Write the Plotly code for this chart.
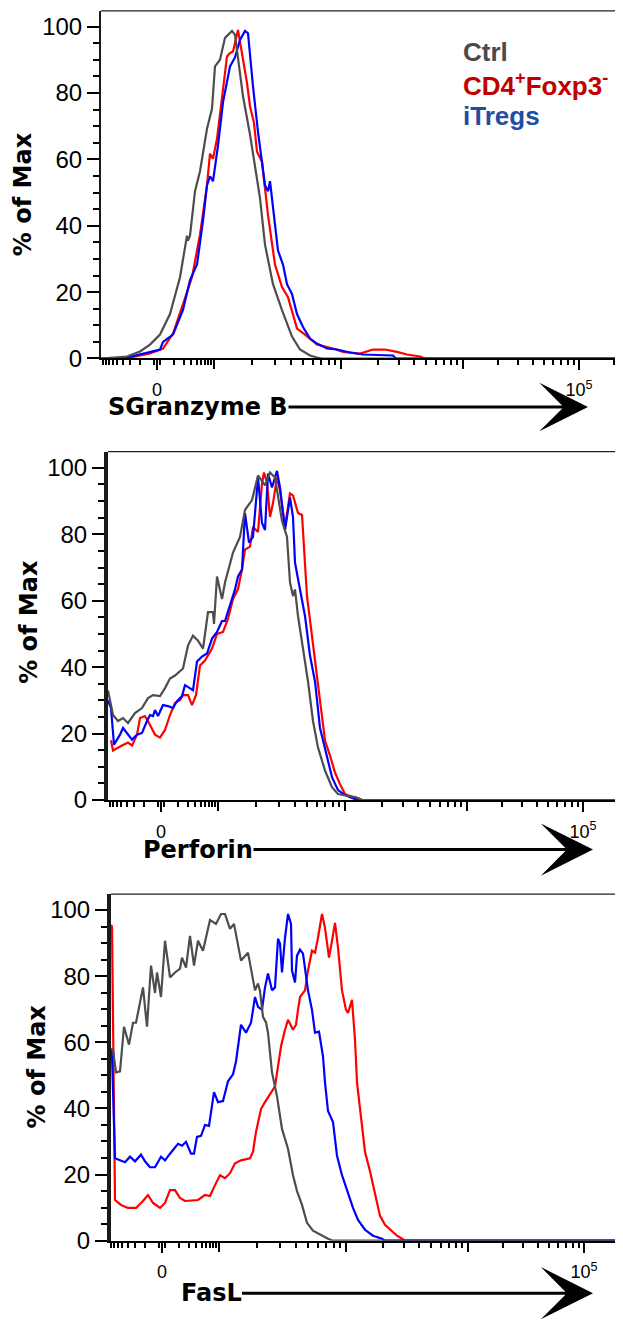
import plotly.graph_objects as go

PAGE_W, PAGE_H = 623, 1329
BODY_MARGIN = 8  # browser default margin around the plot div
FIG_W, FIG_H = PAGE_W - BODY_MARGIN, PAGE_H - 2 * BODY_MARGIN

# ---------------- data (x in display units of the biexponential axis, 0 = the "0" tick) ----------------
GROUP_LABELS = ["Ctrl", "CD4<sup>+</sup>Foxp3<sup>-</sup>", "iTregs"]
X_TITLES = ["SGranzyme B", "Perforin", "FasL"]
Y_TITLE = "% of Max"

X_LABELED = [0, 422]
X_LABELED_TEXT = ["0", "10<sup>5</sup>"]
X_UNLABELED_MAJOR = [57, 184, 306]
X_MINOR = [-54, -51, -48, -44, -40, -34, -27, -17, -3, 3, 17, 27, 34, 40, 44, 48, 51, 54,
           95, 118, 134, 146, 156, 164, 172, 178,
           221, 242, 257, 269, 279, 287, 294, 300,
           341, 361, 376, 387, 396, 404, 411, 417, 457]
Y_MAJOR = [0, 20, 40, 60, 80, 100]
Y_MAJOR_TEXT = ["0", "20", "40", "60", "80", "100"]
Y_MINOR = [5, 10, 15, 25, 30, 35, 45, 50, 55, 65, 70, 75, 85, 90, 95]

# Granzyme B
gzmb_ctrl_x = [-56, -30, -17, -7, 3, 13, 23, 30, 31, 33, 38, 43, 50, 55, 58, 63, 68, 75, 78, 81,
               86, 93, 100, 103, 108, 116, 125, 135, 143, 153, 160, 165, 470]
gzmb_ctrl_y = [0, 0.6, 2.1, 4.2, 7.2, 13.4, 24.5, 37, 35.5, 37, 50.4, 56.4, 69.2, 75.2, 88, 90, 96.6, 98.7, 97.5, 91,
               79, 67.5, 55, 48.3, 34.3, 22.4, 14.6, 6.6, 2.7, 0.9, 0.3, 0, 0]
gzmb_cd4_x = [-56, -37, -24, -7, 6, 16, 26, 35, 43, 50, 53, 56, 60, 65, 70, 73, 76, 81, 85, 90,
              93, 97, 100, 105, 111, 118, 125, 131, 140, 148, 160, 176, 186, 203, 216, 228, 240, 250, 263, 268, 470]
gzmb_cd4_y = [0, 0, 0.5, 1.5, 3, 7.5, 16.4, 24.5, 37.3, 52.2, 61.7, 60.2, 66.2, 79, 91, 92, 92.5, 99, 92, 83,
              76, 71, 62.3, 59.3, 43.2, 28.3, 21.5, 18.5, 9, 7.2, 4.2, 3, 2, 1.5, 2.7, 2.7, 2, 1.2, 0.6, 0, 0]
gzmb_itreg_x = [-56, -37, -27, -10, 3, 6, 16, 26, 33, 40, 46, 50, 53, 56, 61, 66, 73, 78, 83, 88,
                91, 96, 101, 108, 111, 113, 118, 121, 126, 130, 135, 140, 146, 153, 160, 170, 180, 193, 206, 236, 239, 470]
gzmb_itreg_y = [0, 0, 0.5, 1.8, 2.7, 5, 7.2, 14.6, 23.6, 28.3, 41.5, 52.2, 54.9, 53.4, 64.1, 77.2, 88, 90.7, 96, 98.7,
                98, 82, 68.3, 52.2, 50.4, 53.4, 39.4, 32.5, 28.3, 22.4, 19.4, 13.4, 9.5, 6, 4.5, 3, 2.7, 1.8, 1.2, 0.9, 0, 0]

# Perforin
perf_ctrl_x = [-53, -49, -48, -43, -38, -33, -26, -19, -13, -8, -1, 4, 9, 14, 22, 27, 32, 37, 42, 47,
               52, 53, 56, 61, 64, 72, 79, 84, 91, 97, 104, 109, 114, 121, 126, 129, 132, 134, 137, 142,
               147, 152, 157, 164, 171, 177, 184, 194, 201, 470]
perf_ctrl_y = [33, 26.8, 25.6, 23.8, 24.7, 23.2, 26.2, 27.7, 30.7, 31.6, 31.3, 33.7, 36.6, 37.5, 39.6, 46.5, 49.5, 48, 45.6, 56.6,
               56.6, 53, 67.3, 60.5, 65.5, 74.5, 79.2, 87.3, 90.3, 97.7, 94.7, 98.6, 97.1, 84, 79.2, 65.5, 61.4, 63.4, 55.4, 45.6,
               35.7, 23.8, 15.8, 8.9, 3.9, 1.8, 1.5, 0.9, 0, 0]
perf_cd4_x = [-50, -48, -39, -33, -29, -24, -21, -16, -11, -6, -1, 4, 9, 14, 19, 22, 27, 31, 35, 39,
              44, 51, 56, 62, 67, 72, 77, 81, 84, 89, 92, 97, 101, 103, 106, 109, 112, 116, 119, 124,
              129, 132, 137, 141, 146, 151, 154, 159, 164, 169, 174, 179, 184, 191, 197, 201, 470]
perf_cd4_y = [18, 14.9, 16.4, 17.3, 16.4, 19.7, 24.7, 25.3, 22.6, 19.7, 18.8, 21.1, 25.6, 29.2, 30.1, 31.6, 31.6, 28.6, 31.6, 40.5,
              42, 45.6, 50, 50.6, 54.5, 60.5, 63.5, 69.4, 75.4, 76.3, 82.2, 80.7, 95.3, 98.6, 95.6, 85.2, 89.4, 97.1, 93.2, 82.2,
              92.3, 91.7, 86.4, 85.8, 61.4, 49.5, 41.7, 30.7, 17.9, 13.4, 8.3, 4.8, 1.8, 0.9, 0.6, 0, 0]
perf_itreg_x = [-53, -50, -47, -41, -38, -34, -29, -24, -19, -14, -11, -8, -6, -3, 2, 7, 12, 16, 21, 24,
                29, 32, 36, 41, 46, 51, 56, 61, 64, 69, 74, 77, 81, 84, 88, 92, 97, 101, 104, 107,
                111, 116, 119, 124, 129, 132, 134, 139, 144, 149, 154, 159, 166, 171, 177, 184, 191, 197, 470]
perf_itreg_y = [30, 27.7, 16.7, 19.7, 21.7, 20.2, 18.2, 19.7, 20.2, 23.8, 25.6, 25.3, 27.1, 25.3, 28.6, 28.3, 27.7, 29.8, 31.3, 34.6,
                33.7, 33.1, 41.7, 43.2, 44.1, 48.6, 50.6, 53.9, 53.9, 58.4, 63.4, 67.3, 69.4, 86.4, 77.5, 79.2, 97.1, 83.4, 81.3, 98.3,
                94.1, 99.1, 94.1, 81.3, 91.1, 85.2, 71.5, 63.4, 55.4, 43.5, 35.7, 21.7, 12.8, 6.9, 3, 1.5, 0.6, 0, 0]

# FasL
fasl_ctrl_x = [-51, -49, -46, -42, -38, -33, -29, -26, -19, -15, -11, -7, -5, -1, 3, 8, 13, 18, 20, 24,
               28, 32, 36, 41, 48, 54, 59, 63, 68, 72, 79, 86, 93, 96, 98, 101, 104, 106, 110, 115,
               120, 126, 131, 135, 140, 145, 151, 160, 166, 171, 470]
fasl_ctrl_y = [58, 57.8, 50.9, 51.2, 64.7, 59.3, 65.9, 65.9, 76.6, 64.7, 83.2, 74.9, 81.1, 73.7, 90.7, 79.6, 81.1, 82.3, 85.6, 82.6,
               92.2, 83.2, 90.7, 87.7, 97, 95.8, 98.8, 98.8, 94.3, 95.8, 84.7, 87.1, 75.7, 77.8, 75.5, 67.7, 66, 62.9, 50.9, 43.7,
               33.8, 27.8, 19.8, 15, 10.8, 5.4, 3, 1.5, 0.6, 0, 0]
fasl_cd4_x = [-51, -50, -47, -41, -34, -26, -19, -14, -9, -2, 3, 8, 13, 18, 23, 36, 43, 48, 53, 58,
              63, 68, 73, 79, 88, 91, 94, 99, 103, 108, 113, 116, 119, 123, 126, 131, 134, 136, 138, 143,
              146, 150, 153, 156, 160, 163, 167, 170, 173, 176, 180, 184, 186, 190, 193, 195, 198, 203, 208, 213,
              218, 223, 230, 235, 240, 243, 470]
fasl_cd4_y = [95.5, 95, 12.3, 10.8, 9.9, 9.9, 12, 13.8, 11.4, 9.9, 11.4, 15.3, 15.3, 12.9, 12, 12.3, 13.8, 13.5, 16.8, 19.8,
              18.9, 20.4, 23.4, 24.3, 24.9, 26.9, 32.9, 39.8, 41.9, 44.3, 46.7, 52.7, 58.7, 63.8, 66.8, 63.8, 65.3, 69.8, 73.7, 75.7,
              81.7, 87.7, 87.1, 91.6, 98.8, 94.6, 85.6, 90.7, 96.1, 88.6, 75.7, 69.8, 68.9, 72.8, 60.8, 47.9, 40.7, 26.9, 21, 13.8,
              7.5, 4.8, 3, 1.5, 0.6, 0, 0]
fasl_itreg_x = [-51, -50, -47, -41, -37, -32, -27, -21, -17, -12, -7, -1, 3, 8, 16, 20, 24, 29, 32, 35,
                39, 43, 47, 52, 56, 61, 66, 71, 74, 79, 84, 89, 93, 96, 100, 103, 106, 110, 113, 116,
                118, 120, 123, 126, 129, 130, 133, 135, 138, 141, 143, 146, 150, 153, 157, 161, 163, 166, 171, 175,
                180, 185, 191, 196, 203, 211, 220, 223, 470]
fasl_itreg_y = [58, 56, 24.9, 24.3, 23.7, 25.4, 24, 26, 24, 22.2, 22.2, 25.4, 24.3, 26.3, 29.3, 28.7, 29.9, 26.3, 26.3, 31.4,
                31.7, 35, 34.7, 44.9, 41.9, 42.2, 48.2, 50.3, 54.2, 65.3, 62.9, 65.9, 73.7, 70.7, 69.8, 76.6, 80.8, 75.7, 76.6, 91.3,
                89.8, 81.1, 91.6, 98.8, 95.8, 81.7, 78.1, 86.2, 88, 86.8, 81.7, 75.7, 69.8, 62.9, 63.2, 55.7, 47.9, 39.2, 35.9, 25.7,
                19.8, 15, 9.9, 6.3, 3.3, 1.5, 0.6, 0, 0]

PANEL_DATA = [
    [(gzmb_ctrl_x, gzmb_ctrl_y), (gzmb_cd4_x, gzmb_cd4_y), (gzmb_itreg_x, gzmb_itreg_y)],
    [(perf_ctrl_x, perf_ctrl_y), (perf_cd4_x, perf_cd4_y), (perf_itreg_x, perf_itreg_y)],
    [(fasl_ctrl_x, fasl_ctrl_y), (fasl_cd4_x, fasl_cd4_y), (fasl_itreg_x, fasl_itreg_y)],
]

# ---------------- styling / layout ----------------
LINE_COLORS = ["#4d4d4d", "#ff0000", "#0000ff"]
TEXT_COLORS = ["#4a4a4a", "#c00000", "#1f4ea3"]

# geometry of each panel in page pixels
PANELS = [
    dict(left=101, top=11, bottom=362, ymax=104.7, xr=[-56, 466], ylw=2,
         ytitle=(23, 196), xtitle_cx=198, arrow_tip=(588, 411), asize=2.7),
    dict(left=108, top=456, bottom=808, ymax=104.9, xr=[-53, 462], ylw=4,
         ytitle=(29, 628), xtitle_cx=198, arrow_tip=(593, 858), asize=2.9),
    dict(left=111, top=903, bottom=1253, ymax=104.8, xr=[-51, 461], ylw=4,
         ytitle=(37, 1077), xtitle_cx=211, arrow_tip=(593, 1306), asize=2.9),
]

def px(x):
    return (x - BODY_MARGIN) / FIG_W

def py(y):
    return 1 - (y - BODY_MARGIN) / FIG_H

fig = go.Figure()
layout = dict(
    width=FIG_W, height=FIG_H, autosize=False,
    margin=dict(l=0, r=0, t=0, b=0),
    paper_bgcolor="white", plot_bgcolor="white",
    showlegend=False,
    annotations=[], shapes=[],
)

TICK_FONT_Y = dict(family="Liberation Sans, Arial, sans-serif", size=24, color="black")
TICK_FONT_X = dict(family="Liberation Sans, Arial, sans-serif", size=18, color="black")
TITLE_FONT = dict(family="DejaVu Sans, Verdana, sans-serif", size=24, color="black")

n = len(PANELS)
for i, (p, series) in enumerate(zip(PANELS, PANEL_DATA)):
    xa = "x" if i == 0 else f"x{i+1}"
    ya = "y" if i == 0 else f"y{i+1}"
    xkey = "xaxis" if i == 0 else f"xaxis{i+1}"
    ykey = "yaxis" if i == 0 else f"yaxis{i+1}"
    ox = f"x{n + i + 1}"
    oxkey = f"xaxis{n + i + 1}"
    for g, axis in [(1, xa), (2, xa), (0, ox)]:
        sx, sy = series[g]
        fig.add_trace(go.Scatter(x=sx, y=sy, mode="lines", xaxis=axis, yaxis=ya,
                                 line=dict(color=LINE_COLORS[g], width=2.2),
                                 hoverinfo="skip", name=GROUP_LABELS[g]))
    common_x = dict(range=p["xr"], showgrid=False, zeroline=False, fixedrange=True,
                    ticks="outside", ticklen=10, tickwidth=2, tickcolor="black")
    layout[xkey] = dict(
        domain=[px(p["left"]), 1], anchor=ya,
        showline=True, linecolor="black", linewidth=2,
        tickmode="array", tickvals=X_LABELED, ticktext=X_LABELED_TEXT,
        tickfont=TICK_FONT_X, ticklabelstandoff=4,
        minor=dict(tickmode="array", tickvals=X_MINOR, ticks="outside",
                   ticklen=5, tickwidth=2, tickcolor="black", showgrid=False),
        **common_x,
    )
    layout[oxkey] = dict(
        overlaying=xa, anchor=ya, side="bottom", showline=False,
        tickmode="array", tickvals=X_UNLABELED_MAJOR, showticklabels=False,
        **common_x,
    )
    layout[ykey] = dict(
        domain=[py(p["bottom"]), py(p["top"])], range=[0, p["ymax"]], anchor=xa,
        showline=True, linecolor="#1a1a1a", linewidth=p["ylw"],
        showgrid=False, zeroline=False,
        ticks="outside", ticklen=12, tickwidth=2, tickcolor="black",
        tickmode="array", tickvals=Y_MAJOR, ticktext=Y_MAJOR_TEXT,
        tickfont=TICK_FONT_Y,
        minor=dict(tickmode="array", tickvals=Y_MINOR, ticks="outside",
                   ticklen=6, tickwidth=2, tickcolor="black", showgrid=False),
        fixedrange=True,
    )
    layout["shapes"].append(dict(type="line", xref=f"{xa} domain", yref=f"{ya} domain",
                                 x0=0, x1=1, y0=1, y1=1,
                                 line=dict(color="#222222", width=1.2)))
    tx, ty = p["ytitle"]
    layout["annotations"].append(dict(text=f"<b>{Y_TITLE}</b>", textangle=-90,
                                      xref="paper", yref="paper", x=px(tx), y=py(ty),
                                      xanchor="center", yanchor="middle",
                                      showarrow=False, font=TITLE_FONT))
    tipx, tipy = p["arrow_tip"]
    layout["annotations"].append(dict(text=f"<b>{X_TITLES[i]}</b>",
                                      xref="paper", yref="paper", x=px(tipx), y=py(tipy),
                                      ax=p["xtitle_cx"] - tipx, ay=0,
                                      showarrow=True, arrowhead=3, arrowsize=p["asize"],
                                      arrowwidth=3, arrowcolor="black", standoff=0,
                                      borderpad=0, font=TITLE_FONT))

LEGEND_Y = [52, 85, 117]
for g in range(3):
    layout["annotations"].append(dict(text=f"<b>{GROUP_LABELS[g]}</b>",
                                      xref="paper", yref="paper", x=px(461), y=py(LEGEND_Y[g]),
                                      xanchor="left", yanchor="middle", showarrow=False,
                                      font=dict(family="Liberation Sans, Arial, sans-serif",
                                                size=26, color=TEXT_COLORS[g])))

fig.update_layout(**layout)
fig.write_html("out.html", config={"displayModeBar": False})
